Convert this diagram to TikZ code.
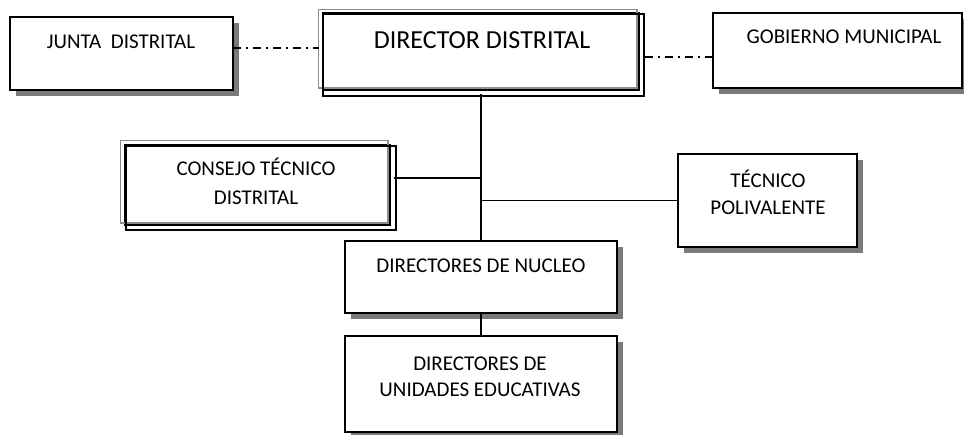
\documentclass[tikz,border=0pt]{standalone}
\usepackage{fontspec}
\setmainfont{Carlito}
\usetikzlibrary{shadows}
\begin{document}
\begin{tikzpicture}[x=1pt,y=-1pt,
  box/.style={draw=black, line width=1.8pt, fill=white, inner sep=0pt,
    drop shadow={shadow xshift=6pt, shadow yshift=-6pt, fill=black!52, opacity=1}},
  plainbox/.style={draw=black, line width=1.6pt, inner sep=0pt},
  lbl/.style={anchor=base, inner sep=0pt, font=\fontsize{21}{26}\selectfont},
  biglbl/.style={anchor=base, inner sep=0pt, font=\fontsize{26}{30}\selectfont},
  link/.style={draw=black, line width=1.8pt},
  dashlink/.style={draw=black, line width=1.4pt, dash pattern=on 8pt off 5pt on 2pt off 5pt}]
\useasboundingbox (0,0) rectangle (964,434);

% boxes
\node[box, minimum width=223, minimum height=73] (junta) at (121.5,53.5) {};
\node[box, minimum width=249, minimum height=75] (gob) at (837.5,50.5) {};
\node[box, minimum width=179, minimum height=93] (tec) at (767.5,200.5) {};
\node[box, minimum width=272, minimum height=72] (nuc) at (481,277) {};
\node[box, minimum width=272, minimum height=96] (uni) at (481,384) {};

% director (multi-line frame)
\node[plainbox, minimum width=316, minimum height=77] (dir) at (481,51.5) {};
\draw[black!45, line width=1.4pt] ([shift={(-4,-3)}]dir.north west) rectangle ([shift={(-3,-3)}]dir.south east);
\draw[black, line width=1.6pt] ([shift={(1,2)}]dir.north west) rectangle ([shift={(4,5)}]dir.south east);

% consejo (multi-line frame)
\node[plainbox, minimum width=265, minimum height=80] (con) at (257.5,185) {};
\draw[black!45, line width=1.4pt] ([shift={(-3.5,-3.5)}]con.north west) rectangle ([shift={(-3,-3)}]con.south east);
\draw[black, line width=1.6pt] ([shift={(2,2)}]con.north west) rectangle ([shift={(5,4)}]con.south east);

% texts
\node[lbl] (tjunta) at (121,48) {JUNTA~~DISTRITAL};
\node[biglbl] (tdir) at (482,48) {DIRECTOR DISTRITAL};
\node[lbl] (tgob) at (844,43) {GOBIERNO MUNICIPAL};
\node[lbl] (tcon1) at (256,175) {CONSEJO TÉCNICO};
\node[lbl] (tcon2) at (256,204) {DISTRITAL};
\node[lbl] (ttec1) at (768,187) {TÉCNICO};
\node[lbl] (ttec2) at (768,214) {POLIVALENTE};
\node[lbl] (tnuc) at (481,272) {DIRECTORES DE NUCLEO};
\node[lbl] (tuni1) at (480,370) {DIRECTORES DE};
\node[lbl] (tuni2) at (480,396) {UNIDADES EDUCATIVAS};

% connectors
\coordinate (jl) at (233,48);
\coordinate (jr) at (319,48);
\coordinate (gl) at (645,57);
\coordinate (cj) at (482,178);
\draw[dashlink] (jl) -- (jr);
\draw[dashlink] (gl) -- (gob.west |- gl);
\draw[link] (dir.south -| nuc.north) ++(0,3) -- (nuc.north);
\draw[link] (con.east |- cj) ++(3,0) -- (cj);
\draw[link] (tec.west) -- (tec.west -| nuc.north);
\draw[link] (nuc.south) -- (uni.north);
\end{tikzpicture}
\end{document}
